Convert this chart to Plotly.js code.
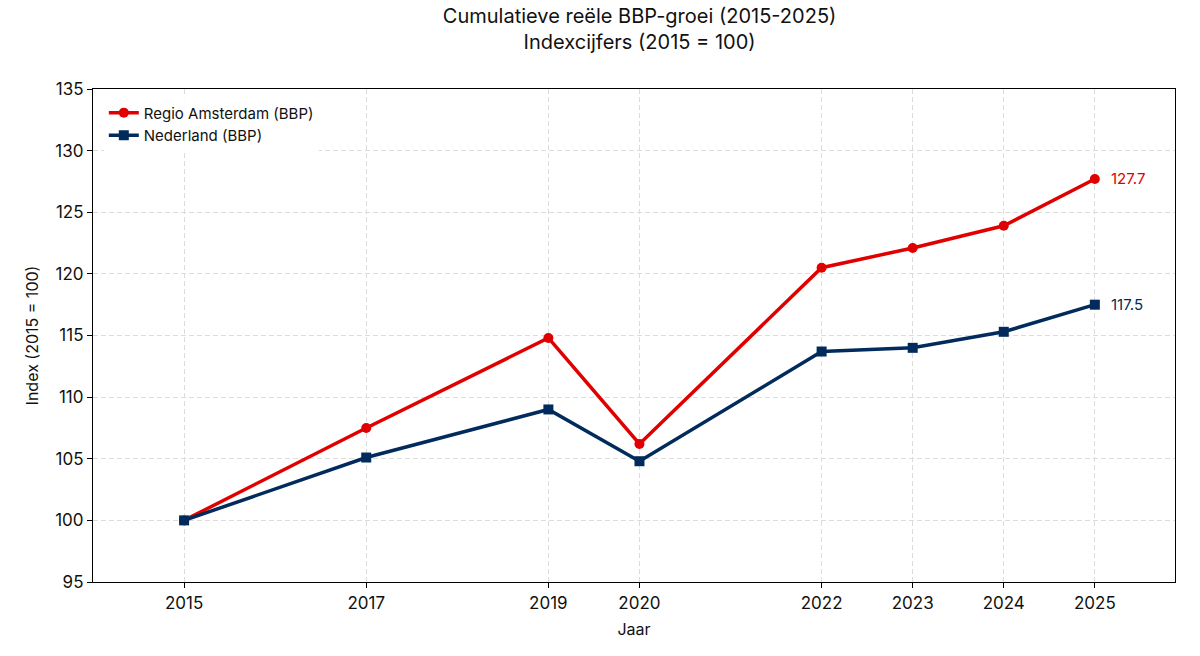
<!DOCTYPE html>
<html>
<head>
<meta charset="utf-8">
<script src="https://cdn.plot.ly/plotly-3.0.1.min.js"></script>
<style>body{margin:0;background:#fff}#chart{width:1200px;height:656px}</style>
</head>
<body>
<div id="chart"></div>
<script>
var years = [2015, 2017, 2019, 2020, 2022, 2023, 2024, 2025];
var amsterdam = [100, 107.5, 114.8, 106.2, 120.5, 122.1, 123.9, 127.7];
var nederland = [100, 105.1, 109.0, 104.8, 113.7, 114.0, 115.3, 117.5];
var yTicks = [95, 100, 105, 110, 115, 120, 125, 130, 135];

var red = '#e00000', navy = '#002b5c';
var n = years.length - 1;

var traces = [
  { x: years, y: amsterdam, name: 'Regio Amsterdam (BBP)', type: 'scatter', mode: 'lines+markers',
    line: { color: red, width: 3.5 }, marker: { symbol: 'circle', size: 10, color: red } },
  { x: years, y: nederland, name: 'Nederland (BBP)', type: 'scatter', mode: 'lines+markers',
    line: { color: navy, width: 3.5 }, marker: { symbol: 'square', size: 10, color: navy } }
];

var layout = {
  width: 1200, height: 656,
  margin: { l: 93, r: 25, t: 89, b: 74 },
  paper_bgcolor: 'white', plot_bgcolor: 'white',
  font: { family: 'Inter, Roboto, sans-serif', color: '#111', size: 17 },
  title: { text: 'Cumulatieve reële BBP-groei (2015-2025)<br>Indexcijfers (2015 = 100)',
           x: 0.533, xanchor: 'center', y: 0.965, yanchor: 'top', font: { size: 20 } },
  xaxis: { range: [2014.0, 2025.88], tickvals: years, ticktext: years.map(String),
           showgrid: true, gridcolor: '#dcdcdc', griddash: '5px,3px', zeroline: false,
           showline: true, linecolor: 'black', linewidth: 1.2, mirror: true,
           ticks: 'outside', ticklen: 5, tickcolor: 'black',
           title: { text: 'Jaar', font: { size: 16 }, standoff: 12 } },
  yaxis: { range: [95, 135], tickvals: yTicks,
           showgrid: true, gridcolor: '#dcdcdc', griddash: '5px,3px', zeroline: false,
           showline: true, linecolor: 'black', linewidth: 1.2, mirror: true,
           ticks: 'outside', ticklen: 5, tickcolor: 'black',
           title: { text: 'Index (2015 = 100)', font: { size: 16 }, standoff: 12 } },
  legend: { x: 0.01, y: 0.985, xanchor: 'left', yanchor: 'top', bgcolor: 'rgba(255,255,255,0.9)',
            font: { size: 15 } },
  annotations: [
    { x: years[n], y: amsterdam[n], text: amsterdam[n].toFixed(1), showarrow: false,
      xanchor: 'left', xshift: 14, font: { color: red, size: 15 } },
    { x: years[n], y: nederland[n], text: nederland[n].toFixed(1), showarrow: false,
      xanchor: 'left', xshift: 14, font: { color: navy, size: 15 } }
  ]
};

Plotly.newPlot('chart', traces, layout, { displayModeBar: false });
</script>
</body>
</html>
